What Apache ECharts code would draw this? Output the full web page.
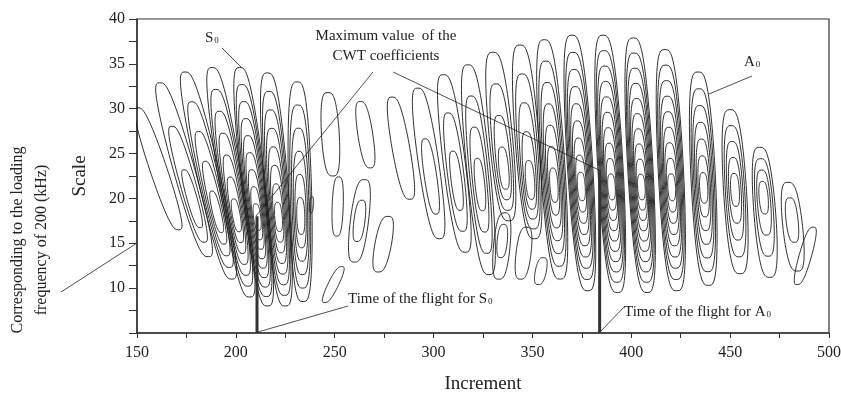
<!DOCTYPE html>
<html>
<head>
<meta charset="utf-8">
<script src="https://cdn.jsdelivr.net/npm/echarts@6/dist/echarts.min.js"></script>
<style>
  html, body { margin: 0; background: #fff; }
  #chart { width: 841px; height: 393px; }
</style>
</head>
<body>
<div id="chart"></div>
<script>
// S0 wave packet: one entry per contour lobe (outer ring top / bottom, ring count)
const s0TopInc   = [150.5, 161.6, 174.3, 188.0, 202.0, 216.0, 231.0, 246.6, 238.5, 252.0, 263.0, 265.0, 277.0, 253.5];
const s0TopScale = [30.1, 32.9, 34.1, 34.6, 34.6, 34.0, 33.0, 31.8, 20.2, 22.4, 30.8, 22.1, 18.0, 12.4];
const s0BotInc   = [171.0, 186.0, 198.0, 207.0, 216.0, 225.0, 234.0, 249.0, 238.0, 251.0, 268.0, 260.0, 272.0, 245.0];
const s0BotScale = [16.5, 13.5, 11.0, 9.0, 8.0, 8.0, 8.5, 22.5, 18.4, 15.8, 23.4, 12.9, 11.8, 8.4];
const s0Rings    = [1, 3, 5, 7, 9, 8, 6, 1, 1, 1, 1, 2, 1, 1];
const s0Width    = [4.5, 5.5, 5.8, 6.0, 6.0, 6.0, 5.8, 4.5, 1.0, 2.8, 3.8, 4.6, 4.2, 2.8];

// A0 wave packet
const a0TopInc   = [279.0, 292.0, 305.0, 317.4, 330.0, 343.7, 356.0, 370.0, 385.7, 401.0, 417.0, 433.8, 450.0, 465.0, 479.3, 492.0, 336.0, 347.0, 355.5];
const a0TopScale = [31.3, 32.3, 33.8, 34.9, 36.3, 37.1, 37.7, 38.2, 38.2, 37.9, 36.6, 34.1, 29.9, 25.7, 21.8, 16.8, 18.4, 16.8, 13.4];
const a0BotInc   = [288.0, 303.0, 316.0, 328.0, 338.0, 351.0, 364.0, 378.0, 393.0, 408.0, 423.0, 439.0, 455.0, 470.0, 484.0, 484.0, 333.0, 344.0, 353.0];
const a0BotScale = [19.9, 15.5, 14.0, 11.5, 17.5, 15.5, 11.0, 9.7, 9.5, 9.5, 9.7, 10.3, 11.6, 11.2, 11.9, 10.4, 11.0, 11.0, 10.4];
const a0Rings    = [1, 2, 3, 4, 4, 5, 7, 9, 10, 10, 9, 7, 5, 4, 2, 1, 2, 1, 1];
const a0Width    = [4.5, 5.2, 5.6, 5.9, 5.9, 6.0, 6.2, 6.4, 6.4, 6.4, 6.4, 6.2, 5.8, 5.5, 5.0, 3.2, 4.2, 3.8, 2.8];

// where the rings of each packet close in, and the marked maxima
const s0Core = 17.5;
const a0Core = 21.0;
const maxInc   = [210.7, 384.0];
const maxScale = [18.0, 23.2];
const axisMinScale = 5;

const FONT = '"Liberation Serif", "DejaVu Serif", serif';

function lobeRings(topInc, topScale, botInc, botScale, rings, width, core) {
  const out = [];
  const h = topScale - botScale;
  const c = Math.min(Math.max(core, botScale + 0.25 * h), topScale - 0.35 * h);
  for (let k = 0; k < rings; k++) {
    const f = 1 - k / rings;
    const top = c + (topScale - c) * f;
    const bot = c + (botScale - c) * f;
    const w = width * (0.22 + 0.78 * f);
    const pts = [];
    for (let i = 0; i <= 72; i++) {
      const t = (i / 72) * 2 * Math.PI;
      const v = (1 - Math.cos(t)) / 2;
      const s = bot + v * (top - bot);
      const axisInc = botInc + ((s - botScale) / h) * (topInc - botInc);
      // flattened sides, rounded ends
      const side = Math.sign(Math.sin(t)) * Math.pow(Math.abs(Math.sin(t)), 0.6);
      pts.push([axisInc + side * w, s]);
    }
    out.push({ coords: pts });
  }
  return out;
}

function packet(topInc, topScale, botInc, botScale, rings, width, core) {
  let all = [];
  topInc.forEach((_, i) => {
    all = all.concat(lobeRings(topInc[i], topScale[i], botInc[i], botScale[i], rings[i], width[i], core));
  });
  return all;
}

const contourData = packet(s0TopInc, s0TopScale, s0BotInc, s0BotScale, s0Rings, s0Width, s0Core)
  .concat(packet(a0TopInc, a0TopScale, a0BotInc, a0BotScale, a0Rings, a0Width, a0Core));

const maxData = maxInc.map((x, i) => ({ coords: [[x, axisMinScale], [x, maxScale[i]]] }));

const chart = echarts.init(document.getElementById('chart'), null, { renderer: 'canvas' });

const sub = { fontSize: 9, fontFamily: FONT, verticalAlign: 'bottom', padding: [6, 0, 0, 1], fill: '#222' };
const lineStyle = { stroke: '#222', lineWidth: 0.8 };

const option = {
  animation: false,
  backgroundColor: '#fff',
  grid: {
    left: 137, right: 12, top: 19, bottom: 60,
    containLabel: false, outerBoundsMode: 'none',
    show: true, borderColor: '#333', borderWidth: 1.2
  },
  xAxis: {
    type: 'value', min: 150, max: 500, interval: 25,
    name: 'Increment', nameLocation: 'middle', nameGap: 42,
    nameTextStyle: { fontFamily: FONT, fontSize: 19, color: '#222' },
    axisLine: { show: true, lineStyle: { color: '#333', width: 1.5 } },
    axisTick: { show: true, length: 5, lineStyle: { color: '#333' } },
    axisLabel: {
      fontFamily: FONT, fontSize: 16, color: '#222', margin: 12,
      formatter: v => (v % 50 === 0 ? String(v) : '')
    },
    splitLine: { show: false }
  },
  yAxis: {
    type: 'value', min: 5, max: 40, interval: 2.5,
    name: 'Scale', nameLocation: 'middle', nameGap: 47,
    nameTextStyle: { fontFamily: FONT, fontSize: 19, color: '#222' },
    axisLine: { show: true, lineStyle: { color: '#333', width: 1.5 } },
    axisTick: { show: true, length: 8, lineStyle: { color: '#333' } },
    axisLabel: {
      fontFamily: FONT, fontSize: 16, color: '#222', margin: 12,
      formatter: v => (v % 5 === 0 && v > 5 ? String(v) : '')
    },
    splitLine: { show: false }
  },
  series: [
    {
      type: 'lines', coordinateSystem: 'cartesian2d', polyline: true, silent: true,
      data: contourData,
      lineStyle: { color: '#1a1a1a', width: 0.9, opacity: 1 }
    },
    {
      type: 'lines', coordinateSystem: 'cartesian2d', polyline: true, silent: true,
      data: maxData,
      lineStyle: { color: '#333', width: 3, opacity: 1 }
    }
  ],
  graphic: [
    {
      type: 'text', x: 30, y: 240, rotation: Math.PI / 2,
      style: {
        text: 'Corresponding to the loading\nfrequency of 200 (kHz)',
        font: '16px ' + FONT, fill: '#222', align: 'center', verticalAlign: 'middle', lineHeight: 24
      }
    },
    { type: 'line', shape: { x1: 61, y1: 292, x2: 137, y2: 243 }, style: lineStyle },
    {
      type: 'text', x: 205, y: 38,
      style: { text: 'S{sub|0}', font: '15px ' + FONT, fill: '#222', verticalAlign: 'middle', rich: { sub } }
    },
    { type: 'line', shape: { x1: 222, y1: 48, x2: 241, y2: 67 }, style: lineStyle },
    {
      type: 'text', x: 386, y: 46,
      style: {
        text: 'Maximum value  of the\nCWT coefficients',
        font: '15px ' + FONT, fill: '#222', align: 'center', verticalAlign: 'middle', lineHeight: 20
      }
    },
    { type: 'line', shape: { x1: 373, y1: 72, x2: 256, y2: 216 }, style: lineStyle },
    { type: 'line', shape: { x1: 393, y1: 72, x2: 599, y2: 170 }, style: lineStyle },
    {
      type: 'text', x: 348, y: 299,
      style: { text: 'Time of the flight for S{sub|0}', font: '15px ' + FONT, fill: '#222', verticalAlign: 'middle', rich: { sub } }
    },
    { type: 'line', shape: { x1: 258, y1: 332, x2: 348, y2: 306 }, style: lineStyle },
    {
      type: 'text', x: 624, y: 312,
      style: { text: 'Time of the flight for A{sub|0}', font: '15px ' + FONT, fill: '#222', verticalAlign: 'middle', rich: { sub } }
    },
    { type: 'line', shape: { x1: 600, y1: 332, x2: 625, y2: 306 }, style: lineStyle },
    {
      type: 'text', x: 744, y: 62,
      style: { text: 'A{sub|0}', font: '15px ' + FONT, fill: '#222', verticalAlign: 'middle', rich: { sub } }
    },
    { type: 'line', shape: { x1: 752, y1: 76, x2: 709, y2: 94 }, style: lineStyle }
  ]
};

chart.setOption(option);
</script>
</body>
</html>
